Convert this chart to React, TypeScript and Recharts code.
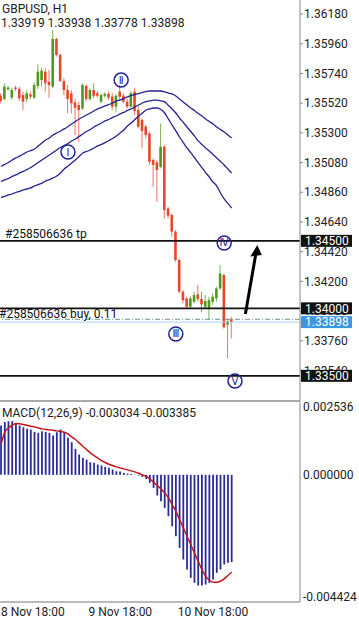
import React from "react";
import { ComposedChart, Bar, Line, XAxis, YAxis, ReferenceLine, ReferenceDot } from "recharts";

// GBPUSD H1 candles, oldest first
const opens = [
  1.35575, 1.35551, 1.35622, 1.35561, 1.35635, 1.35625, 1.3558, 1.35551, 1.35585, 1.35561,
  1.35647, 1.35691, 1.35753, 1.35679, 1.35642, 1.35995, 1.35877, 1.35684, 1.35617, 1.35593,
  1.35526, 1.35506, 1.35481, 1.35647, 1.35551, 1.35617, 1.35593, 1.35531, 1.35575, 1.35588,
  1.35568, 1.35494, 1.35605, 1.35575, 1.35531, 1.35494, 1.35605, 1.35469, 1.35395, 1.35346,
  1.35296, 1.35099, 1.35081, 1.35049, 1.35197, 1.3474, 1.34691, 1.34568, 1.34358, 1.34123,
  1.34074, 1.34012, 1.34049, 1.34103, 1.34069, 1.34012, 1.33999, 1.34049, 1.34074, 1.34148,
  1.34246, 1.3388, 1.33919,
];
const highs = [
  1.35593, 1.35667, 1.35647, 1.35635, 1.35647, 1.35642, 1.35605, 1.35617, 1.35605, 1.35674,
  1.35808, 1.35783, 1.35778, 1.35766, 1.36062, 1.36005, 1.35889, 1.35704, 1.35654, 1.35617,
  1.35551, 1.35531, 1.35667, 1.35659, 1.3563, 1.35667, 1.3561, 1.35593, 1.356, 1.35605,
  1.35593, 1.35585, 1.35654, 1.35593, 1.35551, 1.3561, 1.3563, 1.35494, 1.35407, 1.35358,
  1.35309, 1.35111, 1.35099, 1.3537, 1.3521, 1.34753, 1.34703, 1.3458, 1.3437, 1.34135,
  1.34086, 1.34093, 1.34123, 1.34172, 1.34123, 1.34098, 1.34086, 1.34111, 1.3416, 1.34321,
  1.34259, 1.33925, 1.33938,
];
const lows = [
  1.35519, 1.35541, 1.35612, 1.35543, 1.3561, 1.35536, 1.35469, 1.35526, 1.35551, 1.35551,
  1.35625, 1.35642, 1.35605, 1.35561, 1.3563, 1.35864, 1.35674, 1.3558, 1.35444, 1.35444,
  1.35284, 1.35234, 1.35469, 1.35536, 1.35536, 1.35556, 1.35561, 1.35519, 1.35561, 1.35543,
  1.35469, 1.35452, 1.35543, 1.35519, 1.35481, 1.35486, 1.35432, 1.35333, 1.35185, 1.35259,
  1.35062, 1.34901, 1.3479, 1.35037, 1.34666, 1.34666, 1.34531, 1.34345, 1.34111, 1.34037,
  1.33995, 1.33999, 1.34037, 1.34049, 1.3397, 1.33995, 1.33913, 1.34024, 1.34049, 1.34135,
  1.3385, 1.33629, 1.33778,
];
const closes = [
  1.35536, 1.35642, 1.35635, 1.35617, 1.35625, 1.35556, 1.35531, 1.35593, 1.35568, 1.35654,
  1.35753, 1.35761, 1.35667, 1.35654, 1.35995, 1.35877, 1.35684, 1.35617, 1.35551, 1.35519,
  1.35486, 1.35469, 1.35654, 1.35551, 1.35617, 1.35575, 1.35575, 1.3558, 1.3559, 1.35561,
  1.35494, 1.35575, 1.35568, 1.35531, 1.35494, 1.35593, 1.35462, 1.35346, 1.35314, 1.35284,
  1.35086, 1.35062, 1.35025, 1.35197, 1.34728, 1.34686, 1.34568, 1.34358, 1.34123, 1.34061,
  1.34012, 1.34074, 1.34098, 1.34069, 1.34029, 1.34054, 1.34061, 1.34086, 1.34148, 1.34259,
  1.3386, 1.33905, 1.33898,
];

// the three blue envelope lines
const upperBand = [
  1.35051, 1.35066, 1.3508, 1.35099, 1.35114, 1.35128, 1.35143, 1.35158, 1.35169, 1.3518,
  1.35203, 1.35225, 1.35247, 1.35262, 1.35284, 1.35299, 1.35314, 1.35329, 1.35347, 1.35366,
  1.35384, 1.35403, 1.35417, 1.35432, 1.35447, 1.35462, 1.35477, 1.35488, 1.35499, 1.3551,
  1.35521, 1.35536, 1.35543, 1.35554, 1.35566, 1.35577, 1.35584, 1.35591, 1.35599, 1.35606,
  1.3561, 1.3561, 1.3561, 1.3561, 1.35603, 1.35595, 1.35588, 1.35573, 1.35551, 1.35529,
  1.35506, 1.35484, 1.35466, 1.35443, 1.35425, 1.35403, 1.35384, 1.35366, 1.35343, 1.35325,
  1.35306, 1.35284, 1.35262,
];
const middleBand = [
  1.3494, 1.34951, 1.34962, 1.34977, 1.34988, 1.35003, 1.35014, 1.35029, 1.35043, 1.35062,
  1.3508, 1.35099, 1.35117, 1.35136, 1.35154, 1.35173, 1.35191, 1.35206, 1.35221, 1.3524,
  1.35254, 1.35273, 1.35292, 1.3531, 1.35325, 1.35343, 1.35358, 1.35373, 1.35388, 1.35399,
  1.35414, 1.35425, 1.3544, 1.35451, 1.35466, 1.35477, 1.35492, 1.35506, 1.35521, 1.35532,
  1.35536, 1.35543, 1.35543, 1.35536, 1.35529, 1.35503, 1.35477, 1.35447, 1.3541, 1.35377,
  1.35343, 1.3531, 1.35277, 1.3524, 1.35214, 1.35188, 1.35166, 1.3514, 1.35114, 1.35088,
  1.35062, 1.35032, 1.35003,
];
const lowerBand = [
  1.34821, 1.34829, 1.3484, 1.34847, 1.34858, 1.34866, 1.34877, 1.34884, 1.34892, 1.34906,
  1.34917, 1.34928, 1.34943, 1.34954, 1.34966, 1.3498, 1.35003, 1.35032, 1.35054, 1.35077,
  1.35099, 1.35125, 1.35151, 1.35162, 1.35173, 1.35188, 1.35203, 1.35214, 1.35228, 1.35243,
  1.35258, 1.35277, 1.35299, 1.35321, 1.35351, 1.35373, 1.35399, 1.35425, 1.35447, 1.35469,
  1.35477, 1.35484, 1.35484, 1.35473, 1.35447, 1.35403, 1.35358, 1.35314, 1.35269, 1.35228,
  1.35188, 1.35154, 1.35117, 1.3508, 1.35043, 1.35006, 1.34973, 1.34936, 1.34906, 1.34854,
  1.3481, 1.34777, 1.34743,
];

// MACD(12,26,9): histogram = main, red line = signal
const macdMain = [
  0.001717, 0.001844, 0.001868, 0.001868, 0.00181, 0.001717, 0.001659, 0.001601, 0.001578, 0.001496,
  0.001462, 0.00152, 0.001496, 0.001462, 0.001369, 0.001485, 0.001578, 0.001485, 0.001288, 0.001137,
  0.000905, 0.000708, 0.000592, 0.000534, 0.000441, 0.000418, 0.00036, 0.000325, 0.000278, 0.000244,
  0.000186, 0.000128, 0.000116, 0.00007, 0.000046, 0.000035, 0.000012, -0.000023, -0.00007, -0.000139,
  -0.000278, -0.000452, -0.000719, -0.000916, -0.001148, -0.001438, -0.001786, -0.002134, -0.00254, -0.002946,
  -0.003294, -0.003584, -0.003758, -0.003851, -0.003851, -0.003816, -0.003758, -0.003642, -0.00341, -0.003294,
  -0.00312, -0.003062, -0.003034,
];
const macdSignal = [
  0.001056, 0.001485, 0.001636, 0.001728, 0.001775, 0.001775, 0.001752, 0.001728, 0.001694, 0.00167,
  0.001636, 0.001601, 0.001578, 0.001566, 0.001554, 0.001531, 0.001508, 0.001485, 0.001427, 0.001322,
  0.00123, 0.001114, 0.000998, 0.000882, 0.000766, 0.000673, 0.00058, 0.000499, 0.000429, 0.000371,
  0.000325, 0.000278, 0.000244, 0.000209, 0.000174, 0.000139, 0.000104, 0.000058, 0, -0.000046,
  -0.000139, -0.000255, -0.000371, -0.000487, -0.000626, -0.0008, -0.001032, -0.001264, -0.001554, -0.001844,
  -0.002134, -0.002424, -0.002714, -0.003004, -0.003294, -0.003526, -0.003666, -0.003735, -0.003735, -0.0037,
  -0.003619, -0.003503, -0.003385,
];

const priceTicks = [
  1.3618, 1.3596, 1.3574, 1.3552, 1.353, 1.3508, 1.3486, 1.3464, 1.3442, 1.342, 1.3398, 1.3376, 1.3354,
];
const macdTicks = [0.002536, 0, -0.004424];
const timeTicks = [0, 23.5, 47.5];
const timeLabels = ["8 Nov 18:00", "9 Nov 18:00", "10 Nov 18:00"];

// elliott wave marks: candle index + price
const waveNames = ["Ⅰ", "Ⅱ", "Ⅲ", "Ⅳ", "Ⅴ"];
const waveIndex = [18, 32.3, 47, 60, 62.9];
const wavePrice = [1.35158, 1.35691, 1.3381, 1.34484, 1.33461];

const tpPrice = 1.345;
const buyPrice = 1.34;
const lowLevel = 1.335;
const openPrice = 1.33919;
const bidPrice = 1.33898;

// hand-drawn arrow (candle index, price)
const arrowFrom = { x: 65.7, y: 1.33958 };
const arrowTo = { x: 68.45, y: 1.34395 };
const arrowTip = { x: 68.9, y: 1.34469 };

const candles = opens.map((o, i) => ({
  i,
  open: o,
  high: highs[i],
  low: lows[i],
  close: closes[i],
  upper: upperBand[i],
  middle: middleBand[i],
  lower: lowerBand[i],
}));
const macdData = macdMain.map((m, i) => ({ i, macd: m, signal: macdSignal[i] }));

const X_DOMAIN: [number, number] = [-0.27, 80.38];
const PRICE_DOMAIN: [number, number] = [1.333136, 1.36284];
const GREEN = "#4d9a1c";
const RED = "#e6472b";
const NAVY = "#23238f";
const TXT = "#222";

const Candle = (props: any) => {
  const { x, y, width, height, payload } = props;
  const { open, close, high, low } = payload;
  const k = height / (high - low);
  const cx = x + width / 2;
  const color = close >= open ? GREEN : RED;
  const top = y + (high - Math.max(open, close)) * k;
  const bot = y + (high - Math.min(open, close)) * k;
  return (
    <g>
      <line x1={cx} x2={cx} y1={y} y2={y + height} stroke={color} strokeWidth={1} opacity={0.75} />
      <rect x={cx - 1.3} y={top} width={2.6} height={Math.max(1, bot - top)} fill={color} />
    </g>
  );
};

// text note sitting on an order line
const note = (text: string, dx: number, dy: number) => (p: any) => (
  <text x={p.viewBox.x + dx} y={p.viewBox.y + dy} fontSize={12} fill="#111">
    {text}
  </text>
);

// price box on the right scale
const tag = (text: string, bg: string) => (p: any) => {
  const vb = p.viewBox;
  const right = vb.x + vb.width;
  return (
    <g>
      <rect x={right + 1} y={vb.y - 6} width={51} height={12} fill={bg} />
      <text x={right + 5} y={vb.y + 4.3} fontSize={12} fill="#fff">
        {text}
      </text>
    </g>
  );
};

const waveMark = (label: string) => (p: any) => (
  <g>
    <circle cx={p.cx} cy={p.cy} r={7} fill="none" stroke={NAVY} strokeWidth={1.5} />
    <text
      x={p.cx}
      y={p.cy}
      textAnchor="middle"
      dominantBaseline="central"
      fontSize={10}
      fill={NAVY}
      fontFamily="DejaVu Sans"
    >
      {label}
    </text>
  </g>
);

const ArrowHead = (p: any) => (
  <polygon
    points={`${p.cx},${p.cy} ${p.cx - 7},${p.cy + 11.5} ${p.cx + 4.5},${p.cy + 10}`}
    fill="#000"
  />
);

const MacdTick = (p: any) => {
  const v = p.payload.value;
  const shift = v > 0 ? 5 : v < 0 ? -5 : 0;
  return (
    <text x={p.x} y={p.y + shift} dy="0.35em" fontSize={12} fill={TXT}>
      {v.toFixed(6)}
    </text>
  );
};

const TimeTick = (p: any) => {
  const idx = timeTicks.indexOf(p.payload.value);
  return (
    <text x={p.x} y={p.y + 10} fontSize={12} fill={TXT}>
      {timeLabels[idx]}
    </text>
  );
};

const App = () => {
  return (
    <div
      style={{
        position: "absolute",
        left: 0,
        top: 0,
        width: 359,
        height: 625,
        background: "#fff",
        fontFamily: "Roboto, sans-serif",
        overflow: "hidden",
      }}
    >
      <div style={{ position: "absolute", left: 0, top: 0 }}>
        <ComposedChart width={359} height={402} data={candles} margin={{ top: 0, right: 0, bottom: 0, left: 0 }}>
          <XAxis
            dataKey="i"
            type="number"
            domain={X_DOMAIN}
            allowDataOverflow
            tick={false}
            tickLine={false}
            height={1}
            axisLine={{ stroke: "#555" }}
          />
          <YAxis
            orientation="right"
            width={59}
            domain={PRICE_DOMAIN}
            allowDataOverflow
            ticks={priceTicks}
            interval={0}
            tickFormatter={(v: number) => v.toFixed(5)}
            tick={{ fill: TXT, fontSize: 12 }}
            tickSize={3}
            tickMargin={1}
            axisLine={{ stroke: "#888" }}
            tickLine={{ stroke: "#888" }}
          />
          <Line dataKey="upper" stroke={NAVY} strokeWidth={1.3} dot={false} activeDot={false} type="monotone" isAnimationActive={false} />
          <Line dataKey="middle" stroke={NAVY} strokeWidth={1.3} dot={false} activeDot={false} type="monotone" isAnimationActive={false} />
          <Line dataKey="lower" stroke={NAVY} strokeWidth={1.3} dot={false} activeDot={false} type="monotone" isAnimationActive={false} />
          <Bar dataKey={(d: any) => [d.low, d.high]} barSize={3} shape={<Candle />} isAnimationActive={false} />
          <ReferenceLine y={bidPrice} stroke="#a9d3f2" strokeWidth={1} />
          <ReferenceLine y={openPrice} stroke="#6f928c" strokeWidth={1} strokeDasharray="5 2 1 2" />
          <ReferenceLine y={tpPrice} stroke="#111" strokeWidth={1.8} label={note("#258506636 tp", 5, -2.5)} />
          <ReferenceLine y={buyPrice} stroke="#111" strokeWidth={1.8} label={note("#258506636 buy, 0.11", -1, 10)} />
          <ReferenceLine y={lowLevel} stroke="#111" strokeWidth={1.8} />
          <ReferenceLine segment={[arrowFrom, arrowTo]} stroke="#000" strokeWidth={3} />
          <ReferenceDot x={arrowTip.x} y={arrowTip.y} shape={<ArrowHead />} />
          {waveNames.map((w, k) => (
            <ReferenceDot key={w} x={waveIndex[k]} y={wavePrice[k]} shape={waveMark(w)} />
          ))}
        </ComposedChart>
      </div>

      {/* price boxes drawn above the scale labels */}
      <div style={{ position: "absolute", left: 0, top: 0 }}>
        <ComposedChart width={359} height={402} data={candles} margin={{ top: 0, right: 59, bottom: 1, left: 0 }}>
          <XAxis dataKey="i" type="number" domain={X_DOMAIN} allowDataOverflow hide />
          <YAxis domain={PRICE_DOMAIN} allowDataOverflow hide />
          <ReferenceLine y={bidPrice} stroke="none" label={tag("1.33898", "#3a97e0")} />
          <ReferenceLine y={tpPrice} stroke="none" label={tag("1.34500", "#111")} />
          <ReferenceLine y={buyPrice} stroke="none" label={tag("1.34000", "#111")} />
          <ReferenceLine y={lowLevel} stroke="none" label={tag("1.33500", "#111")} />
        </ComposedChart>
      </div>

      <div style={{ position: "absolute", left: 2, top: 1.5, fontSize: 12, lineHeight: "14px", color: TXT }}>
        GBPUSD, H1
      </div>
      <div style={{ position: "absolute", left: 1, top: 16, fontSize: 12, lineHeight: "14px", color: TXT }}>
        1.33919 1.33938 1.33778 1.33898
      </div>

      <div style={{ position: "absolute", left: 0, top: 401 }}>
        <ComposedChart width={359} height={224} data={macdData} margin={{ top: 1, right: 0, bottom: 1, left: 0 }}>
          <XAxis
            dataKey="i"
            type="number"
            domain={X_DOMAIN}
            allowDataOverflow
            ticks={timeTicks}
            interval={0}
            tick={<TimeTick />}
            tickSize={0}
            tickMargin={4}
            height={22}
            axisLine={{ stroke: "#777" }}
          />
          <YAxis
            orientation="right"
            width={59}
            domain={[-0.004424, 0.002536]}
            allowDataOverflow
            ticks={macdTicks}
            interval={0}
            tick={<MacdTick />}
            tickSize={0}
            tickMargin={3}
            axisLine={{ stroke: "#888" }}
          />
          <Bar dataKey="macd" fill="#2b2b98" barSize={1.8} isAnimationActive={false} />
          <Line dataKey="signal" stroke="#c4161c" strokeWidth={1.5} dot={false} activeDot={false} type="monotone" isAnimationActive={false} />
        </ComposedChart>
      </div>
      <div style={{ position: "absolute", left: 2, top: 406, fontSize: 12, lineHeight: "14px", color: TXT }}>
        MACD(12,26,9) -0.003034 -0.003385
      </div>
    </div>
  );
};

export default App;
